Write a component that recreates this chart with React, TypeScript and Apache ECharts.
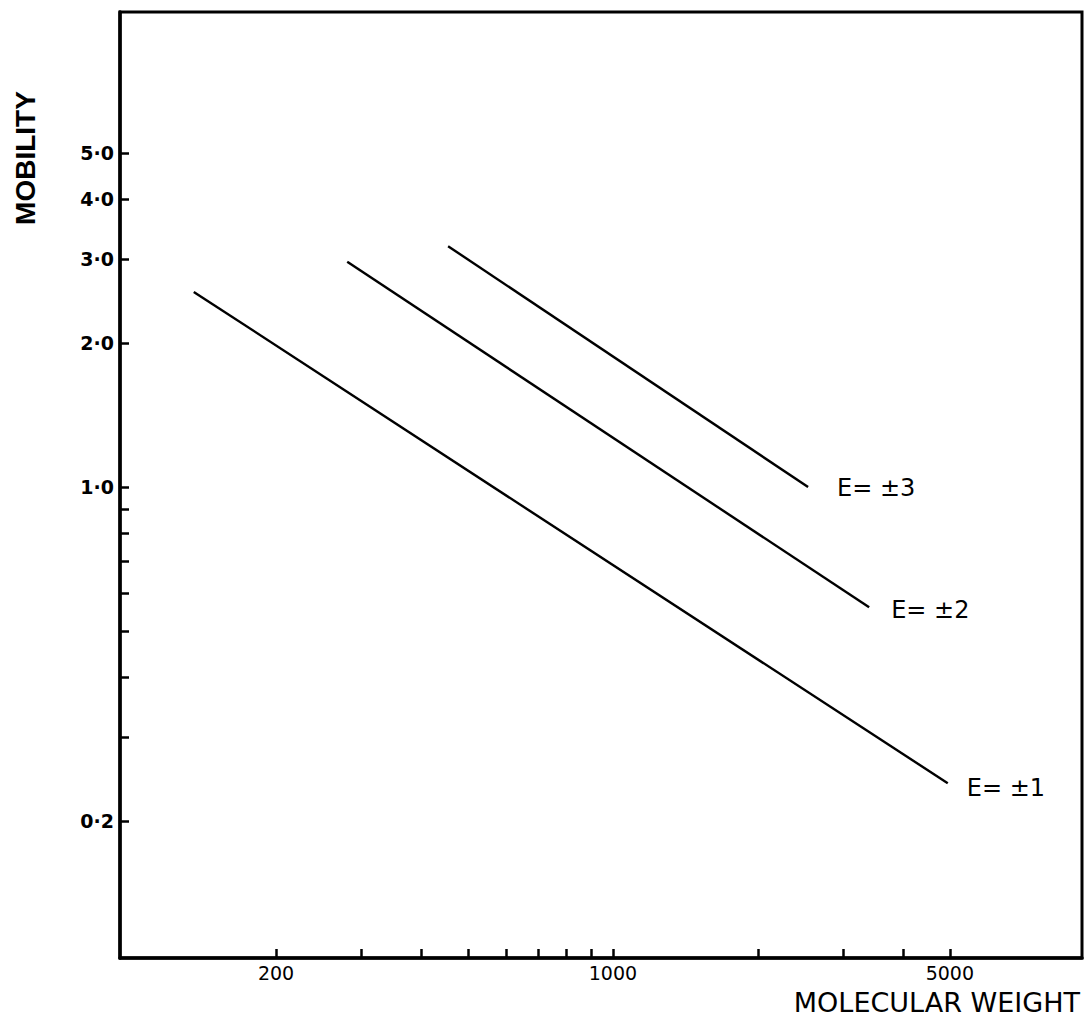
import React, { useEffect, useRef } from "react";
import * as echarts from "echarts";

// Axis ranges (log scales)
const xRange = [94.9, 9400];
const yRange = [0.1034, 9.86];

// Tick marks and labels
const xTickValues = [200, 300, 400, 500, 600, 700, 800, 900, 1000, 2000, 3000, 4000, 5000];
const xLabelValues = [200, 1000, 5000];
const xLabelTexts = ["200", "1000", "5000"];
const yTickValues = [0.2, 0.3, 0.4, 0.5, 0.6, 0.7, 0.8, 0.9, 1, 2, 3, 4, 5];
const yLabelValues = [0.2, 1, 2, 3, 4, 5];
const yLabelTexts = ["0·2", "1·0", "2·0", "3·0", "4·0", "5·0"];

// Series: [molecular weight, mobility]
const seriesNames = ["E= ±1", "E= ±2", "E= ±3"];
const e1 = [[135, 2.56], [4950, 0.24]];
const e2 = [[281, 2.96], [3400, 0.56]];
const e3 = [[455, 3.19], [2540, 1.0]];

const pick = (vals: number[], texts: string[], v: number) => {
  let best = 0;
  for (let i = 0; i < vals.length; i++) {
    if (Math.abs(Math.log(vals[i]) - Math.log(v)) < Math.abs(Math.log(vals[best]) - Math.log(v))) best = i;
  }
  return texts[best];
};

export default function App() {
  const ref = useRef<HTMLDivElement>(null);
  useEffect(() => {
    if (!ref.current) return;
    const chart = echarts.init(ref.current, null, { renderer: "svg" });
    const labelStyle = (distance: number, dy: number) => ({
      show: true,
      distance,
      offset: [0, dy],
      color: "#000",
      fontSize: 24,
      fontFamily: "DejaVu Sans",
    });
    const lineSeries = (name: string, data: number[][], distance: number, dy: number) => ({
      name,
      type: "line",
      data,
      symbol: "none",
      lineStyle: { color: "#000", width: 2.4 },
      endLabel: { ...labelStyle(distance, dy), formatter: name },
      z: 3,
    });
    chart.setOption({
      animation: false,
      backgroundColor: "#fff",
      textStyle: { fontFamily: "DejaVu Sans", color: "#000" },
      grid: {
        left: 120,
        right: 10,
        top: 12,
        bottom: 61,
        show: true,
        borderColor: "#000",
        borderWidth: 3,
      },
      xAxis: {
        type: "log",
        min: xRange[0],
        max: xRange[1],
        axisLine: { show: true, lineStyle: { color: "#000", width: 3.5 } },
        splitLine: { show: false },
        minorTick: { show: false },
        axisTick: {
          show: true,
          inside: true,
          length: 9,
          lineStyle: { color: "#000", width: 2.5 },
          customValues: xTickValues,
        },
        axisLabel: {
          show: true,
          customValues: xLabelValues,
          margin: 5,
          color: "#000",
          fontSize: 19,
          fontFamily: "DejaVu Sans",
          formatter: (v: number) => pick(xLabelValues, xLabelTexts, v),
        },
      },
      yAxis: {
        type: "log",
        min: yRange[0],
        max: yRange[1],
        axisLine: { show: true, lineStyle: { color: "#000", width: 3.5 } },
        splitLine: { show: false },
        minorTick: { show: false },
        axisTick: {
          show: true,
          inside: true,
          length: 9,
          lineStyle: { color: "#000", width: 2.5 },
          customValues: yTickValues,
        },
        axisLabel: {
          show: true,
          customValues: yLabelValues,
          margin: 6,
          color: "#000",
          fontSize: 19,
          fontWeight: "bold",
          fontFamily: "DejaVu Sans",
          formatter: (v: number) => pick(yLabelValues, yLabelTexts, v),
        },
      },
      graphic: [
        {
          type: "text",
          x: 25,
          y: 158,
          rotation: Math.PI / 2,
          style: {
            text: "MOBILITY",
            align: "center",
            verticalAlign: "middle",
            fill: "#000",
            font: "bold 28px 'Liberation Sans', Arial, sans-serif",
          },
        },
        {
          type: "text",
          x: 1080,
          y: 1002,
          style: {
            text: "MOLECULAR WEIGHT",
            align: "right",
            verticalAlign: "middle",
            fill: "#000",
            font: "27px 'DejaVu Sans', sans-serif",
          },
        },
      ],
      series: [
        lineSeries(seriesNames[0], e1, 19, 5),
        lineSeries(seriesNames[1], e2, 22, 3),
        lineSeries(seriesNames[2], e3, 29, 1),
      ],
    });
    return () => chart.dispose();
  }, []);
  return (
    <div
      ref={ref}
      style={{ position: "fixed", left: 0, top: 0, width: 1092, height: 1019 }}
    />
  );
}
